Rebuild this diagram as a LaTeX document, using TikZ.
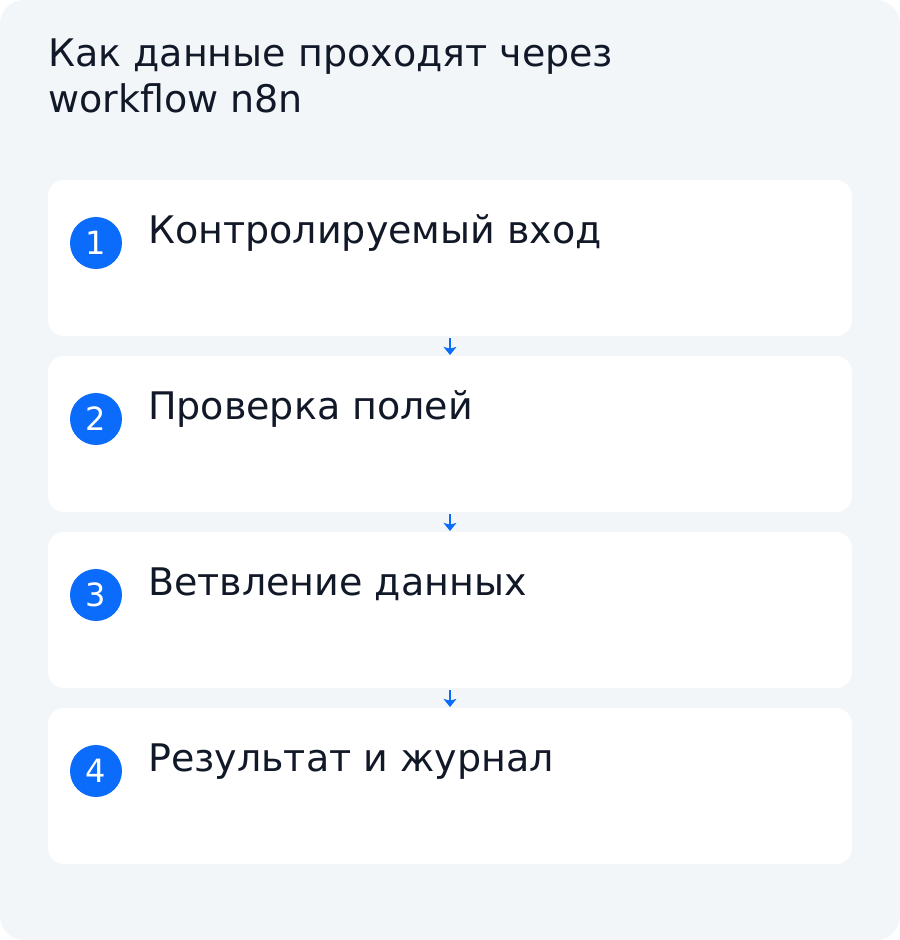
\documentclass[tikz,border=0pt]{standalone}
\usepackage{fontspec}
\setmainfont{DejaVu Sans}
\usetikzlibrary{arrows.meta}
\definecolor{bgc}{HTML}{F3F6F9}
\definecolor{txt}{HTML}{111827}
\definecolor{blu}{HTML}{0B6CFB}
\tikzset{
  card/.style={fill=white, draw=none, rounded corners=12pt},
  badge/.style={circle, fill=blu, minimum size=39pt, inner sep=0pt, text=white, font=\fontsize{24}{24}\selectfont},
  cardtext/.style={anchor=base west, text=txt, inner sep=0pt, font=\fontsize{28.5}{28.5}\selectfont},
  titletext/.style={anchor=base west, text=txt, inner sep=0pt, font=\fontsize{28.5}{28.5}\selectfont},
  flow/.style={draw=blu, line width=2pt, -{Stealth[length=6pt,width=9.5pt,inset=1.2pt]}},
}
\begin{document}
\begin{tikzpicture}[x=0.75pt,y=-0.75pt]
\useasboundingbox (0,0) rectangle (900,940);
\fill[bgc, rounded corners=18pt] (0,0) rectangle (900,940);
\node[titletext] (title1) at (48,66) {Как данные проходят через};
\node[titletext] (title2) at (48,112) {workflow n8n};
\foreach \i/\t/\y in {1/Контролируемый вход/180, 2/Проверка полей/356, 3/Ветвление данных/532, 4/Результат и журнал/708}{
  \path[card] (48,\y) rectangle (852,\y+156);
  \node[badge] (b\i) at (96,\y+63) {\i};
  \node[cardtext] (t\i) at (148,\y+63) {\t};
  \coordinate (top\i) at (450,\y);
  \coordinate (bot\i) at (450,\y+156);
}
\foreach \a/\b in {1/2,2/3,3/4}{
  \draw[flow] ([yshift=-1.5pt]bot\a) -- ([yshift=0.75pt]top\b);
}
\end{tikzpicture}
\end{document}
